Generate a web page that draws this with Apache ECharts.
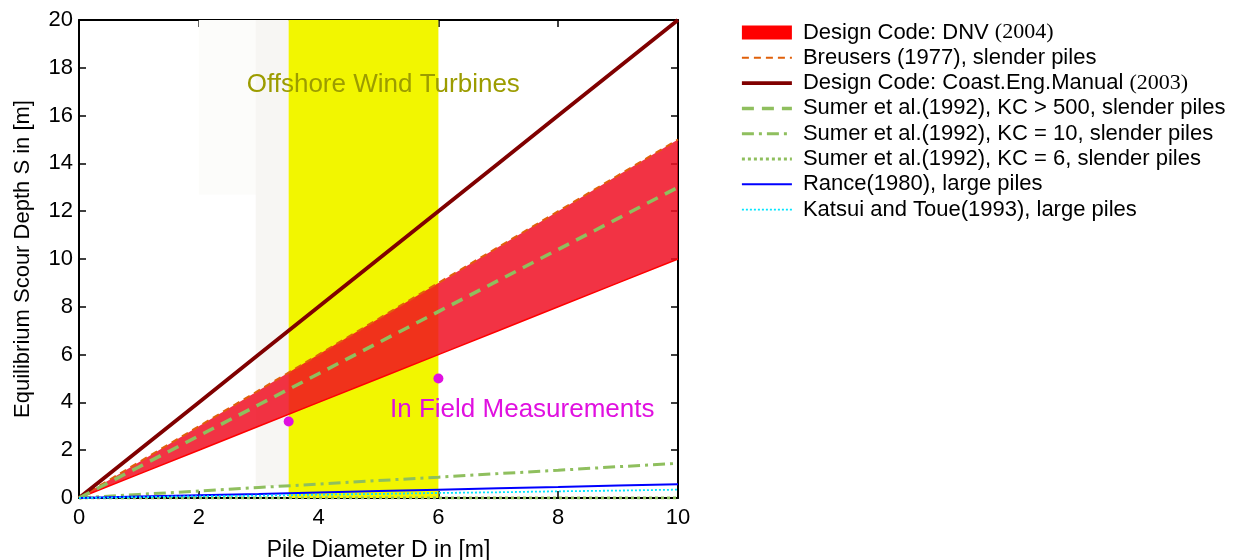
<!DOCTYPE html>
<html>
<head>
<meta charset="utf-8">
<script src="https://cdn.jsdelivr.net/npm/echarts@6/dist/echarts.min.js"></script>
<style>
html,body{margin:0;padding:0;background:#fff;}
#chart{width:1233px;height:560px;}
</style>
</head>
<body>
<div id="chart"></div>
<script>
// ---- data ----
var pileDiameter = [0, 1, 2, 3, 4, 5, 6, 7, 8, 9, 10];
var dnvLower     = [0, 1, 2, 3, 4, 5, 6, 7, 8, 9, 10];
var dnvUpper     = [0, 1.5, 3, 4.5, 6, 7.5, 9, 10.5, 12, 13.5, 15];
var breusers     = [0, 1.5, 3, 4.5, 6, 7.5, 9, 10.5, 12, 13.5, 15];
var coastEng     = [0, 2, 4, 6, 8, 10, 12, 14, 16, 18, 20];
var sumerKC500   = [0, 1.3, 2.6, 3.9, 5.2, 6.5, 7.8, 9.1, 10.4, 11.7, 13];
var sumerKC10    = [0, 0.15, 0.29, 0.44, 0.58, 0.73, 0.87, 1.02, 1.16, 1.31, 1.45];
var sumerKC6     = [0, 0, 0, 0, 0, 0, 0, 0, 0, 0, 0];
var rance        = [0, 0.06, 0.12, 0.17, 0.23, 0.29, 0.35, 0.41, 0.46, 0.52, 0.58];
var katsui       = [0, 0.035, 0.07, 0.1, 0.14, 0.17, 0.21, 0.24, 0.28, 0.31, 0.35];
var fieldMeasurements = [[3.5, 3.2], [6, 5.0]];
var windTurbineRange = [3.5, 6];
var legendNames = [
  'Design Code: DNV (2004)',
  'Breusers (1977), slender piles',
  'Design Code: Coast.Eng.Manual (2003)',
  'Sumer et al.(1992), KC > 500, slender piles',
  'Sumer et al.(1992), KC = 10, slender piles',
  'Sumer et al.(1992), KC = 6, slender piles',
  'Rance(1980), large piles',
  'Katsui and Toue(1993), large piles'
];
var annotationTexts = ['Offshore Wind Turbines', 'In Field Measurements'];

function pairs(ys) { return pileDiameter.map(function (d, i) { return [d, ys[i]]; }); }

var FONT = 'Liberation Sans, Arial, sans-serif';
var GREEN = '#8fbf5e';
var MAGENTA = '#e010e0';

var chart = echarts.init(document.getElementById('chart'), null, {renderer: 'canvas'});

function lineSeries(name, ys, color, width, type, z) {
  return {
    name: name, type: 'line', data: pairs(ys),
    symbol: 'circle', showSymbol: false, z: z || 3,
    lineStyle: {color: color, width: width, type: type},
    itemStyle: {color: color},
    emphasis: {disabled: true}, animation: false
  };
}

var option = {
  backgroundColor: '#ffffff',
  animation: false,
  grid: {left: 79, right: 555, top: 20, bottom: 62, outerBoundsMode: 'none', containLabel: false},
  legend: {
    orient: 'vertical', left: 735, top: 16,
    itemWidth: 50, itemHeight: 14, itemGap: 2.3,
    selectedMode: false,
    itemStyle: {opacity: 0},
    lineStyle: {width: 'inherit'},
    data: [
      {name: legendNames[0], icon: 'rect', itemStyle: {color: '#ff0000', opacity: 1}},
      legendNames[1], legendNames[2], legendNames[3], legendNames[4],
      legendNames[5], legendNames[6], legendNames[7]
    ],
    textStyle: {
      fontFamily: FONT, fontSize: 22, lineHeight: 23, color: '#000', padding: [0, 0, 0, 6],
      rich: {s: {fontFamily: 'Liberation Serif, Times New Roman, serif', fontSize: 22, lineHeight: 23, color: '#000'}}
    },
    formatter: function (n) { return n.replace(/\((200[34])\)$/, '{s|($1)}'); }
  },
  xAxis: [{
    type: 'value', min: 0, max: 10, interval: 2,
    name: 'Pile Diameter D in [m]', nameLocation: 'middle', nameGap: 41,
    nameTextStyle: {fontFamily: FONT, fontSize: 23, color: '#000'},
    axisLine: {show: true, onZero: false, lineStyle: {color: '#000', width: 2}},
    axisTick: {show: true, inside: true, length: 7, lineStyle: {color: '#000', width: 1.5}},
    axisLabel: {fontFamily: FONT, fontSize: 22, color: '#000', margin: 9},
    splitLine: {show: false}
  }, {
    type: 'value', min: 0, max: 10, interval: 2, position: 'top',
    axisLine: {show: true, onZero: false, lineStyle: {color: '#000', width: 2}},
    axisTick: {show: true, inside: true, length: 7, lineStyle: {color: '#000', width: 1.5}},
    axisLabel: {show: false}, splitLine: {show: false}
  }],
  yAxis: [{
    type: 'value', min: 0, max: 20, interval: 2,
    name: 'Equilibrium Scour Depth S in [m]', nameLocation: 'middle', nameGap: 45,
    nameTextStyle: {fontFamily: FONT, fontSize: 22, color: '#000'},
    axisLine: {show: true, onZero: false, lineStyle: {color: '#000', width: 2}},
    axisTick: {show: true, inside: true, length: 7, lineStyle: {color: '#000', width: 1.5}},
    axisLabel: {fontFamily: FONT, fontSize: 22, color: '#000', margin: 6},
    splitLine: {show: false}
  }, {
    type: 'value', min: 0, max: 20, interval: 2, position: 'right',
    axisLine: {show: true, onZero: false, lineStyle: {color: '#000', width: 2}},
    axisTick: {show: true, inside: true, length: 7, lineStyle: {color: '#000', width: 1.5}},
    axisLabel: {show: false}, splitLine: {show: false}
  }],
  series: [
    {
      name: 'background', type: 'line', data: [], z: 1, silent: true,
      markArea: {
        silent: true,
        data: [
          [{xAxis: 2.0, yAxis: 12.7, itemStyle: {color: '#fcfcfa'}}, {xAxis: windTurbineRange[0], yAxis: 20}],
          [{xAxis: 2.95, yAxis: 0.5, itemStyle: {color: '#f7f6f3'}}, {xAxis: windTurbineRange[0], yAxis: 20}],
          [{xAxis: windTurbineRange[0], yAxis: 0, itemStyle: {color: '#f2f600'}}, {xAxis: windTurbineRange[1], yAxis: 20}]
        ]
      }
    },
    {
      name: legendNames[0], type: 'custom', z: 2, data: [[0, 0]],
      itemStyle: {color: '#ff0000'},
      renderItem: function (params, api) {
        var pts = [];
        for (var i = 0; i < pileDiameter.length; i++) pts.push(api.coord([pileDiameter[i], dnvUpper[i]]));
        for (var j = pileDiameter.length - 1; j >= 0; j--) pts.push(api.coord([pileDiameter[j], dnvLower[j]]));
        return {type: 'polygon', shape: {points: pts}, style: {fill: 'rgba(240,12,32,0.84)'}};
      },
      animation: false, silent: true
    },
    lineSeries('dnvLowerEdge', dnvLower, '#ff0000', 1.5, 'solid', 3),
    lineSeries(legendNames[1], breusers, '#e0600a', 2, [7, 5], 3),
    lineSeries(legendNames[2], coastEng, '#800000', 3.8, 'solid', 3),
    lineSeries(legendNames[3], sumerKC500, GREEN, 3.5, [12, 8], 4),
    lineSeries(legendNames[4], sumerKC10, GREEN, 3, [12, 5, 3, 5], 4),
    lineSeries(legendNames[5], sumerKC6, GREEN, 3, [3, 3], 4),
    lineSeries(legendNames[6], rance, '#0000ff', 2, 'solid', 4),
    lineSeries(legendNames[7], katsui, '#00e5ff', 1.8, [2, 2], 4),
    {
      name: 'field', type: 'scatter', data: fieldMeasurements, z: 5,
      symbolSize: 10, itemStyle: {color: MAGENTA, opacity: 1}, silent: true
    },
    {
      name: 'annotations', type: 'scatter', z: 5, silent: true, symbolSize: 1,
      itemStyle: {color: 'rgba(0,0,0,0)', opacity: 1},
      data: [
        {value: [5.08, 17.3], label: {show: true, position: 'inside', formatter: annotationTexts[0],
          fontFamily: FONT, fontSize: 26, color: '#9c9c00'}},
        {value: [7.4, 3.68], label: {show: true, position: 'inside', formatter: annotationTexts[1],
          fontFamily: FONT, fontSize: 26, color: MAGENTA}}
      ]
    }
  ]
};
chart.setOption(option);
</script>
</body>
</html>
